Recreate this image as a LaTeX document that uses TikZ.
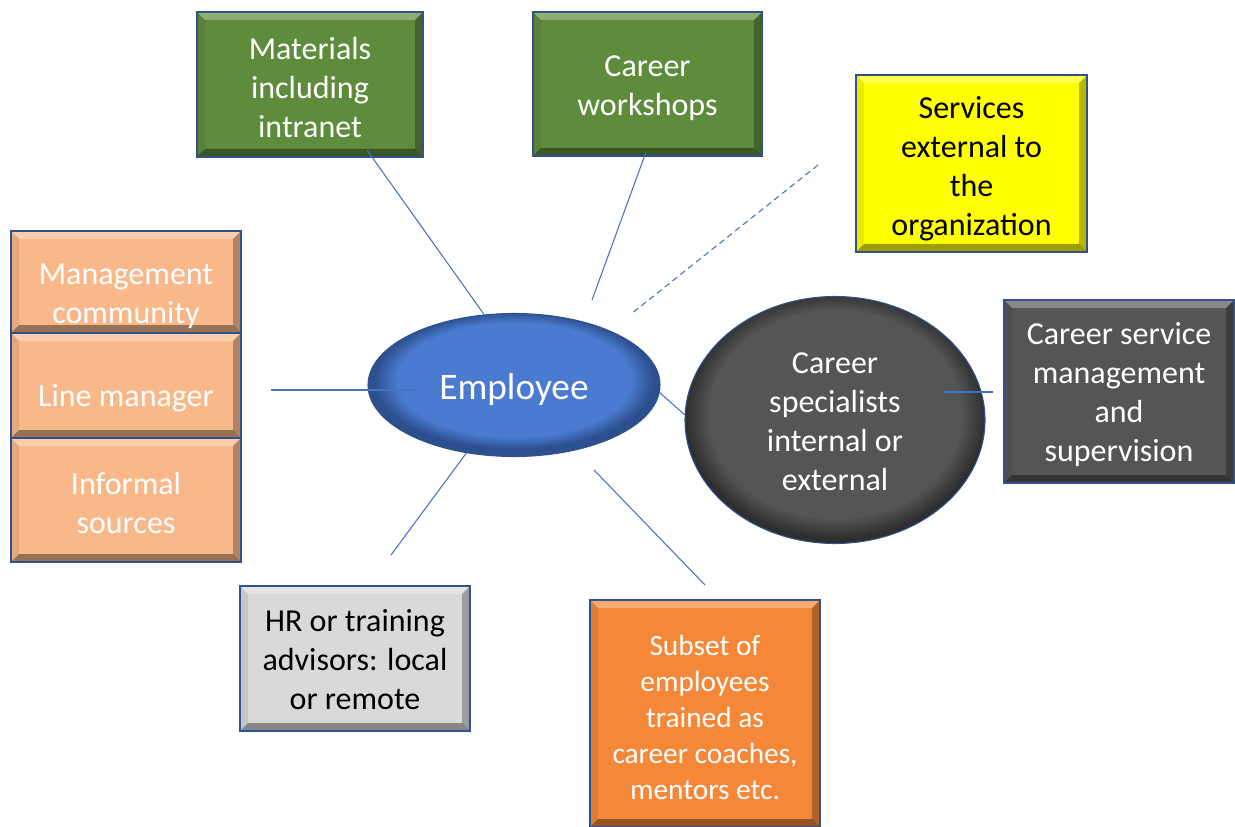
\documentclass[tikz,border=0pt]{standalone}
\usepackage{fontspec}
\setmainfont{Carlito}
\usetikzlibrary{shapes.geometric,calc}
\definecolor{bdr}{HTML}{2F528F}
\definecolor{conncol}{HTML}{4472C4}
\definecolor{grn}{HTML}{5E8C3C}
\definecolor{yel}{HTML}{FFFF00}
\definecolor{peach}{HTML}{F8B88A}
\definecolor{dgray}{HTML}{555555}
\definecolor{lgray}{HTML}{D9D9D9}
\definecolor{orng}{HTML}{F58838}
\definecolor{empblue}{HTML}{4A7BD0}
\definecolor{empdark}{HTML}{2C4F8E}
\definecolor{specgray}{HTML}{555555}
\definecolor{specdark}{HTML}{2E2E2E}
\pgfdeclareradialshading{empshade}{\pgfpoint{0bp}{3bp}}{color(0bp)=(empblue); color(20bp)=(empblue); color(24bp)=(empdark); color(50bp)=(empdark)}
\pgfdeclareradialshading{specshade}{\pgfpoint{0bp}{2bp}}{color(0bp)=(specgray); color(21bp)=(specgray); color(25bp)=(specdark); color(50bp)=(specdark)}
\begin{document}
\begin{tikzpicture}[x=0.75pt,y=-0.75pt,
  bevel/.style={path picture={
    \coordinate (bnw) at (path picture bounding box.north west);
    \coordinate (bse) at (path picture bounding box.south east);
    \coordinate (bne) at (path picture bounding box.north east);
    \coordinate (bsw) at (path picture bounding box.south west);
    \fill[white,opacity=.3] (bnw) -- (bne) -- ($(bne)+(-6pt,-6pt)$) -- ($(bnw)+(6pt,-6pt)$) -- cycle;
    \fill[black,opacity=.28] (bne) -- (bse) -- ($(bse)+(-6pt,6pt)$) -- ($(bne)+(-6pt,-6pt)$) -- cycle;
    \fill[black,opacity=.38] (bsw) -- (bse) -- ($(bse)+(-6pt,6pt)$) -- ($(bsw)+(6pt,6pt)$) -- cycle;
    \fill[black,opacity=.08] (bnw) -- (bsw) -- ($(bsw)+(6pt,6pt)$) -- ($(bnw)+(6pt,-6pt)$) -- cycle;
  }},
  box/.style={rectangle,draw=bdr,line width=1.1pt,inner sep=0pt,bevel},
  oval/.style={ellipse,draw=bdr,line width=0.8pt,inner sep=0pt},
  txt/.style={align=center,inner sep=0pt,font=\fontsize{24}{29.25}\selectfont},
  conn/.style={draw=conncol,line width=0.8pt},
  dashconn/.style={conn,dash pattern=on 4.5pt off 3pt}
]
\useasboundingbox (0,0) rectangle (1235,827);

\node[box,fill=grn,minimum width=169.5pt,minimum height=108.75pt] (mat) at (310,84.5) {};
\node[txt,text=white] (matT) at ([yshift=-1.9pt]mat.center) {Materials\\including\\intranet};
\node[box,fill=grn,minimum width=171.75pt,minimum height=108pt] (work) at (647.5,84) {};
\node[txt,text=white] (workT) at ([yshift=-3pt]work.center) {Career\\workshops};
\node[box,fill=yel,minimum width=173.25pt,minimum height=132.75pt] (serv) at (971.5,163.5) {};
\node[txt,text=black] (servT) at ([yshift=-3.75pt]serv.center) {Services\\external to\\the\\organization};
\node[box,fill=peach,minimum width=172.5pt,minimum height=76.5pt] (mgmt) at (126,282) {};
\node[txt,text=white] (mgmtT) at ([yshift=-10.5pt]mgmt.center) {Management\\community};
\node[box,fill=peach,minimum width=172.5pt,minimum height=78.75pt] (lm) at (126,385.5) {};
\node[txt,text=white] (lmT) at ([yshift=-9.75pt]lm.center) {Line manager};
\node[box,fill=peach,minimum width=172.5pt,minimum height=93pt] (inf) at (126,500) {};
\node[txt,text=white] (infT) at ([yshift=-2.25pt]inf.center) {Informal\\sources};
\node[box,fill=dgray,minimum width=172.5pt,minimum height=137.25pt] (csm) at (1119,391.5) {};
\node[txt,text=white] (csmT) at ([yshift=-2.5pt]csm.center) {Career service\\management\\and\\supervision};
\node[box,fill=lgray,minimum width=172.5pt,minimum height=108.75pt] (hr) at (355,658.5) {};
\node[txt,text=black] (hrT) at ([yshift=-1.1pt]hr.center) {HR or training\\advisors: local\\or remote};
\node[box,fill=orng,minimum width=172.5pt,minimum height=170.25pt] (sub) at (705,713.5) {};
\node[txt,text=white,font=\fontsize{22}{27}\selectfont] (subT) at ([yshift=-3pt]sub.center) {Subset of\\employees\\trained as\\career coaches,\\mentors etc.};

\node[oval,shading=empshade,minimum width=219pt,minimum height=107.25pt] (emp) at (514,385) {};
\node[txt,text=white,font=\fontsize{28}{34}\selectfont] (empT) at ([yshift=-3.75pt]emp.center) {Employee};
\node[oval,shading=specshade,minimum width=225pt,minimum height=185.25pt] (spec) at (835,420) {};
\node[txt,text=white] (specT) at ([yshift=-1.5pt]spec.center) {Career\\specialists\\internal or\\external};

\coordinate (m1) at (367,150);
\coordinate (w1) at (646,152);
\coordinate (w2) at (592,300);
\coordinate (d1) at (818,165);
\coordinate (d2) at (631,314);
\coordinate (l1) at (271,390);
\coordinate (l2) at (418,390);
\coordinate (s1) at (944,392);
\coordinate (s2) at (993,392);
\coordinate (h1) at (391,555);
\coordinate (o1) at (594,470);
\coordinate (o2) at (705,585);

\draw[conn] (m1) -- (emp.113);
\draw[conn] (w1) -- (w2);
\draw[dashconn] (d1) -- (d2);
\draw[conn] (l1) -- (l2);
\draw[conn] (emp.-3) -- (spec.178);
\draw[conn] (s1) -- (s2);
\draw[conn] (emp.235) -- (h1);
\draw[conn] (o1) -- (o2);
\end{tikzpicture}
\end{document}
